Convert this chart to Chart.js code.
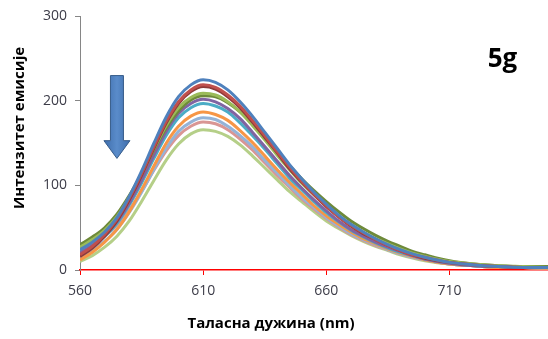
<!DOCTYPE html>
<html>
<head>
<meta charset="utf-8">
<script src="https://cdn.jsdelivr.net/npm/chart.js@4.4.0/dist/chart.umd.min.js"></script>
<style>
  html, body { margin: 0; padding: 0; background: #fff; }
</style>
</head>
<body>
<canvas id="chart" width="548" height="339"></canvas>
<script>
// wavelengths (nm)
const wavelengths = [560,565,570,575,580,585,590,595,600,605,610,615,620,625,630,635,640,645,650,655,660,665,670,675,680,685,690,695,700,710,720,730,740,750];

// emission intensity series
const sBlue   = [24,33,45,62,87,117,150,181,205,219,225,222,213,199,182,163,144,125,108,92,78,65,54,45,37,30,24,19,15,9,6,4,3,3];
const sRed    = [18,28,42,60,85,114,146,176,199,213,219,216,207,194,177,159,140,122,105,90,76,63,53,44,36,29,23,18,15,9,6,4,3,3];
const sDkRed  = [16,26,40,58,83,112,144,174,197,211,217,214,205,192,175,157,139,120,104,89,75,63,52,43,36,29,23,18,14,9,6,4,3,3];
const sGreen  = [27,36,47,63,86,113,143,171,192,204,209,207,199,187,171,154,136,119,103,89,76,64,54,45,37,31,25,20,16,10,7,5,4,3];
const sDkGreen= [30,39,50,66,88,114,142,168,188,201,206,205,198,187,173,157,140,124,108,94,81,69,58,49,41,34,28,22,18,11,7,5,4,4];
const sPurple = [20,29,41,57,79,106,136,164,185,197,202,199,191,179,163,146,129,112,97,83,70,58,48,40,33,27,22,17,13,8,5,4,3,3];
const sAqua   = [21,29,40,55,77,103,132,159,180,192,197,194,187,174,159,143,126,109,95,81,68,57,47,39,32,26,21,17,13,8,5,4,3,3];
const sOrange = [12,21,33,48,69,95,123,150,170,182,187,184,177,165,151,135,119,104,90,76,64,54,45,37,31,25,20,16,12,7,5,3,3,2];
const sLtBlue = [15,23,34,48,68,92,119,144,164,175,180,178,170,159,146,130,115,100,86,74,62,52,43,36,30,24,19,15,12,7,5,3,3,2];
const sPink   = [24,31,40,53,71,93,118,141,159,170,175,173,166,155,142,127,112,98,84,72,61,51,42,35,29,24,19,15,12,7,5,3,3,2];
const sLtGreen= [10,17,27,40,58,81,106,130,149,161,166,164,158,148,135,121,107,93,81,69,58,49,41,34,28,23,18,14,11,7,5,3,3,2];

const xTicks = [560, 610, 660, 710];
const yTicks = [0, 100, 200, 300];

const xTitle = 'Таласна дужина (nm)';
const yTitle = 'Интензитет емисије';
const panelLabel = '5g';

const series = [
    { data: sBlue,    color: '#4F81BD' },
    { data: sRed,     color: '#C0504D' },
    { data: sDkRed,   color: '#8E3A38' },
    { data: sGreen,   color: '#9BBB59' },
    { data: sDkGreen, color: '#6E8A3A' },
    { data: sPurple,  color: '#8064A2' },
    { data: sAqua,    color: '#4BACC6' },
    { data: sOrange,  color: '#F79646' },
    { data: sLtBlue,  color: '#95B3D7' },
    { data: sPink,    color: '#D99694' },
    { data: sLtGreen, color: '#B5CF88' }
];

const tickFont = { family: 'Open Sans', size: 14 };
const tickColor = '#3c3c48';

/**
 * Down arrow, "5g" label and axis titles
 */
const annotations = {
    id: 'annotations',
    afterDatasetsDraw(chart) {
        const { ctx, scales: { x, y } } = chart;
        const cx = x.getPixelForValue(575);
        const top = y.getPixelForValue(230);
        const neck = y.getPixelForValue(153);
        const tip = y.getPixelForValue(132);
        const shaft = 6.5, head = 13;

        ctx.save();
        const grad = ctx.createLinearGradient(cx - head, 0, cx + head, 0);
        grad.addColorStop(0, '#3e6dac');
        grad.addColorStop(0.5, '#5a8cca');
        grad.addColorStop(1, '#3e6dac');
        ctx.beginPath();
        ctx.moveTo(cx - shaft, top);
        ctx.lineTo(cx + shaft, top);
        ctx.lineTo(cx + shaft, neck);
        ctx.lineTo(cx + head, neck);
        ctx.lineTo(cx, tip);
        ctx.lineTo(cx - head, neck);
        ctx.lineTo(cx - shaft, neck);
        ctx.closePath();
        ctx.fillStyle = grad;
        ctx.fill();
        ctx.strokeStyle = '#385D8A';
        ctx.lineWidth = 1;
        ctx.stroke();

        ctx.fillStyle = '#000';
        ctx.font = 'bold 26px "Open Sans"';
        ctx.textAlign = 'center';
        ctx.textBaseline = 'middle';
        ctx.fillText(panelLabel, x.getPixelForValue(731.5), y.getPixelForValue(249));

        // axis titles
        ctx.font = 'bold 15px "Open Sans"';
        ctx.fillText(xTitle, 271, 324);
        ctx.translate(20, 128);
        ctx.rotate(-Math.PI / 2);
        ctx.fillText(yTitle, 0, 0);
        ctx.restore();
    }
};

const chart = new Chart(document.getElementById('chart'), {
    type: 'line',
    data: {
        labels: wavelengths,
        datasets: series.map(s => ({
            data: s.data,
            borderColor: s.color,
            backgroundColor: s.color,
            borderWidth: 3,
            pointRadius: 0,
            fill: false,
            cubicInterpolationMode: 'monotone'
        }))
    },
    options: {
        responsive: false,
        animation: false,
        events: [],
        layout: { padding: { top: 13.5, right: 0, left: 0, bottom: 0 } },
        plugins: {
            legend: { display: false },
            tooltip: { enabled: false }
        },
        scales: {
            x: {
                type: 'linear',
                min: 560,
                max: 750,
                afterBuildTicks: s => { s.ticks = xTicks.map(v => ({ value: v })); },
                afterFit: s => { s.height = 69; },
                grid: { drawOnChartArea: false, color: '#ff0000', tickLength: 5 },
                border: { color: '#ff0000', width: 1.5 },
                ticks: { font: tickFont, color: tickColor, padding: 8, maxRotation: 0 }
            },
            y: {
                min: 0,
                max: 300,
                afterBuildTicks: s => { s.ticks = yTicks.map(v => ({ value: v })); },
                afterFit: s => { s.width = 80; },
                grid: { drawOnChartArea: false, color: '#868686', tickLength: 5 },
                border: { color: '#868686', width: 1 },
                ticks: { font: tickFont, color: tickColor, padding: 8 }
            }
        }
    },
    plugins: [annotations]
});
</script>
</body>
</html>
